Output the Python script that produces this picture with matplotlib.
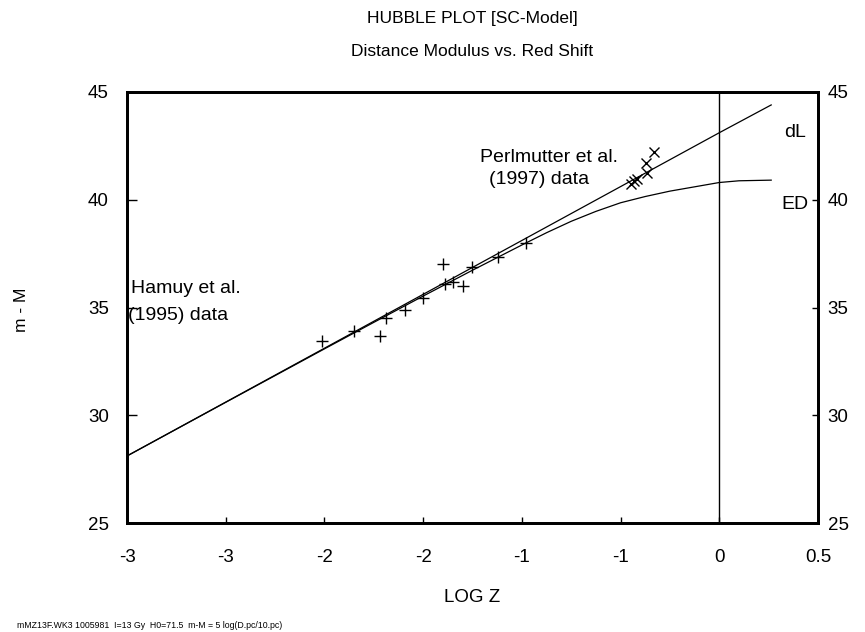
import matplotlib
matplotlib.use("Agg")
import matplotlib.pyplot as plt

# Luminosity-distance line (dL) and ED model curve, sampled along log z
log_z_dl = [-3.0, -2.0, -1.0, 0.0, 0.263]
dl_mu = [28.11, 33.11, 38.11, 43.11, 44.40]

log_z_ed = [-3.0, -2.5, -2.0, -1.75, -1.5, -1.25, -1.0, -0.875, -0.75,
            -0.625, -0.5, -0.375, -0.25, -0.1, 0.0, 0.1, 0.263]
ed_mu = [28.11, 30.60, 33.08, 34.31, 35.53, 36.73, 37.90, 38.47, 39.00,
         39.46, 39.86, 40.15, 40.40, 40.64, 40.80, 40.88, 40.91]

# Supernova samples
hamuy_log_z = [-2.01, -1.85, -1.72, -1.69, -1.59, -1.50, -1.40, -1.39,
               -1.35, -1.30, -1.25, -1.12, -0.98]
hamuy_mu = [33.46, 33.90, 33.69, 34.51, 34.88, 35.43, 37.03, 36.08,
            36.17, 36.00, 36.86, 37.33, 37.98]

perl_log_z = [-0.33, -0.37, -0.365, -0.415, -0.43, -0.445]
perl_mu = [42.20, 41.72, 41.23, 40.97, 40.88, 40.75]

x_ticks = [-3.0, -2.5, -2.0, -1.5, -1.0, -0.5, 0.0, 0.5]
x_tick_labels = ["-3", "-3", "-2", "-2", "-1", "-1", "0", "0.5"]
y_ticks = [25, 30, 35, 40, 45]

plt.rcParams["font.family"] = ["Liberation Sans", "DejaVu Sans"]

W, H = 865, 632
fig = plt.figure(figsize=(W / 100, H / 100), dpi=100)
ax = fig.add_axes([127 / W, 1 - 523 / H, 691 / W, 431 / H])

ax.plot(log_z_dl, dl_mu, color="black", lw=0.9)
ax.plot(log_z_ed, ed_mu, color="black", lw=0.9)
ax.plot(hamuy_log_z, hamuy_mu, linestyle="none", marker="+", ms=9,
        mew=1.0, color="black")
ax.plot(perl_log_z, perl_mu, linestyle="none", marker="x", ms=7,
        mew=1.0, color="black")
ax.axvline(0, color="black", lw=1.0)

ax.set_xlim(-3.0, 0.5)
ax.set_ylim(25, 45)
ax.set_xticks(x_ticks)
ax.set_xticklabels(x_tick_labels)
ax.set_yticks(y_ticks)
ax.set_yticklabels([str(v) for v in y_ticks])

for s in ax.spines.values():
    s.set_linewidth(2.0)

ax.tick_params(axis="y", direction="in", length=7, width=1, left=True,
               right=False, labelleft=True, labelsize=13.5, pad=13)
ax.tick_params(axis="x", direction="in", length=4, width=1, top=False,
               labelsize=13.5, pad=19)

# right-hand scale repeats the distance modulus ticks
axr = ax.twinx()
axr.set_ylim(ax.get_ylim())
axr.set_yticks(y_ticks)
axr.set_yticklabels([str(v) for v in y_ticks])
axr.tick_params(axis="y", direction="in", length=4, width=1,
                labelsize=13.5, pad=7)
for s in axr.spines.values():
    s.set_linewidth(2.0)

ax.text(-1.212, 41.94, "Perlmutter et al.", fontsize=14, ha="left",
        va="center")
ax.text(-1.166, 40.92, "(1997) data", fontsize=14, ha="left", va="center")
ax.text(-2.98, 35.86, "Hamuy et al.", fontsize=14, ha="left", va="center")
ax.text(-2.995, 34.62, "(1995) data", fontsize=14, ha="left", va="center")
ax.text(0.384, 43.14, "dL", fontsize=14, ha="center", va="center")
ax.text(0.384, 39.80, "ED", fontsize=14, ha="center", va="center")

fig.text(472 / W, 1 - 18 / H, "HUBBLE PLOT [SC-Model]", fontsize=12.5,
         ha="center", va="center")
fig.text(472 / W, 1 - 52 / H, "Distance Modulus vs. Red Shift",
         fontsize=12.5, ha="center", va="center")
fig.text(472 / W, 1 - 597 / H, "LOG Z", fontsize=13.5, ha="center",
         va="center")
fig.text(22 / W, 1 - 310 / H, "m - M", fontsize=12.5, ha="center",
         va="center", rotation=90)
fig.text(17 / W, 1 - 625 / H,
         "mMZ13F.WK3 1005981  I=13 Gy  H0=71.5  m-M = 5 log(D.pc/10.pc)",
         fontsize=6.3, ha="left", va="center")

fig.savefig("out.png", dpi=100)
